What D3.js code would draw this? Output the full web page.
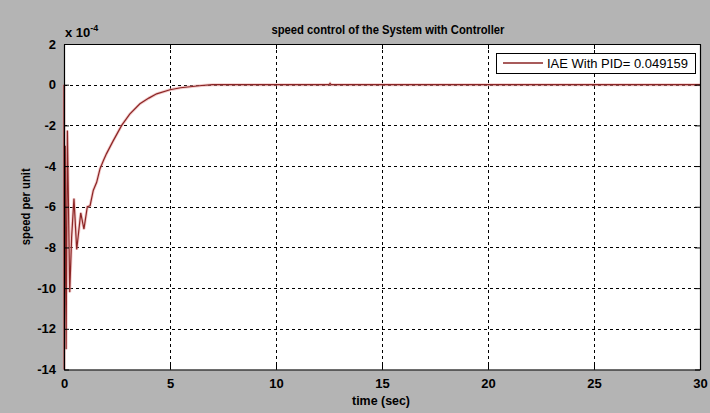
<!DOCTYPE html>
<html><head><meta charset="utf-8">
<script src="https://cdn.jsdelivr.net/npm/d3@7"></script>
<style>
html,body{margin:0;padding:0;background:#b4b4b4;}
svg{display:block;font-family:"Liberation Sans Narrow","Liberation Sans",Arial,sans-serif;}
</style></head>
<body>
<svg id="c" width="710" height="413"></svg>
<script>
const titleText = "speed control of the System with Controller";
const xLabel = "time (sec)";
const yLabel = "speed per unit";
const legendLabel = "IAE With PID= 0.049159";
const xTicks = [0,5,10,15,20,25,30];
const yTicks = [2,0,-2,-4,-6,-8,-10,-12,-14];
const yTickLabels = ["2","0","-2","-4","-6","-8","-10","-12","-14"];
// time (s) and speed (x 1e-4 per unit)
const timeVals  = [0, 0.01, 0.06, 0.10, 0.16, 0.27, 0.36, 0.47, 0.60, 0.79, 0.94, 1.10, 1.23, 1.38, 1.54, 1.70, 1.85, 2.00, 2.30, 2.72, 3.10, 3.58, 4.00, 4.37, 5.00, 5.50, 5.94, 6.50, 7.00, 12.50, 12.55, 12.60, 30];
const speedVals = [0, -14, -3.0, -13.0, -2.25, -10.2, -7.5, -5.6, -8.1, -6.3, -7.1, -6.0, -5.95, -5.2, -4.8, -4.13, -3.75, -3.4, -2.8, -2.0, -1.45, -0.94, -0.66, -0.45, -0.25, -0.15, -0.10, -0.04, 0, 0, 0.06, 0, 0];

const FONT = "Liberation Sans Narrow, Liberation Sans, Arial, sans-serif";
const svg = d3.select("#c");
const L = 64, R = 700, T = 44, B = 369.5;
const x = d3.scaleLinear().domain([0,30]).range([L,R]);
const y = d3.scaleLinear().domain([-14,2]).range([B,T]);

svg.append("rect").attr("x",L).attr("y",T).attr("width",R-L).attr("height",B-T).attr("fill","#fff");

// grid
const g = svg.append("g");
g.selectAll(".gx").data(xTicks.slice(1,-1)).enter().append("line")
  .attr("x1",d=>x(d)+0.5).attr("x2",d=>x(d)+0.5).attr("y1",T).attr("y2",B)
  .attr("stroke","#000").attr("stroke-width",1).attr("stroke-dasharray","3,3");
g.selectAll(".gy").data(yTicks.slice(1,-1)).enter().append("line")
  .attr("y1",d=>Math.round(y(d))+0.5).attr("y2",d=>Math.round(y(d))+0.5).attr("x1",L).attr("x2",R)
  .attr("stroke","#000").attr("stroke-width",1).attr("stroke-dasharray","3,3");

// line
const pts = timeVals.map((t,i)=>[t,speedVals[i]]);
svg.append("path").datum(pts)
  .attr("d", d3.line().x(d=>x(d[0])).y(d=>y(d[1])))
  .attr("fill","none").attr("stroke","#e8a0a0").attr("stroke-width",3).attr("opacity",0.55);
svg.append("path").datum(pts)
  .attr("d", d3.line().x(d=>x(d[0])).y(d=>y(d[1])))
  .attr("fill","none").attr("stroke","#8b2525").attr("stroke-width",1.2);

// axes with inward ticks
const axB = svg.append("g").attr("transform",`translate(0,${B})`)
  .call(d3.axisBottom(x).tickValues(xTicks).tickSizeInner(-5).tickSizeOuter(0).tickPadding(9));
const axT = svg.append("g").attr("transform",`translate(0,${T})`)
  .call(d3.axisTop(x).tickValues(xTicks).tickSizeInner(-5).tickSizeOuter(0).tickFormat(""));
const axLft = svg.append("g").attr("transform",`translate(${L},0)`)
  .call(d3.axisLeft(y).tickValues(yTicks).tickSizeInner(-5).tickSizeOuter(0).tickPadding(8)
  .tickFormat((d,i)=>yTickLabels[i]));
const axRt = svg.append("g").attr("transform",`translate(${R},0)`)
  .call(d3.axisRight(y).tickValues(yTicks).tickSizeInner(-5).tickSizeOuter(0).tickFormat(""));
[axB,axT,axLft,axRt].forEach(a=>{
  a.select(".domain").attr("stroke","#000").attr("stroke-width",1.2);
  a.selectAll(".tick line").attr("stroke","#000");
  a.selectAll("text").attr("font-family",FONT)
   .attr("font-size",13).attr("font-weight","bold").attr("fill","#000");
});

// exponent
const ex = svg.append("text").attr("x",65).attr("y",37).attr("font-size",13).attr("font-weight","bold");
ex.append("tspan").text("x 10");
ex.append("tspan").attr("dy",-6).attr("font-size",9).text("-4");

// title
svg.append("text").attr("x",388).attr("y",34).attr("text-anchor","middle")
  .attr("font-size",12.5).attr("font-weight","bold")
  .attr("textLength",233).attr("lengthAdjust","spacingAndGlyphs").text(titleText);
// x label
svg.append("text").attr("x",381).attr("y",405).attr("text-anchor","middle")
  .attr("font-size",12.5).attr("font-weight","bold")
  .attr("textLength",58).attr("lengthAdjust","spacingAndGlyphs").text(xLabel);
// y label
svg.append("text").attr("transform",`translate(30,${(T+B)/2}) rotate(-90)`).attr("text-anchor","middle")
  .attr("font-size",12.5).attr("font-weight","bold")
  .attr("textLength",77).attr("lengthAdjust","spacingAndGlyphs").text(yLabel);

// legend
svg.append("rect").attr("x",496.5).attr("y",53.5).attr("width",199).attr("height",20)
  .attr("fill","#fff").attr("stroke","#000").attr("stroke-width",1);
svg.append("line").attr("x1",503).attr("x2",543).attr("y1",63).attr("y2",63)
  .attr("stroke","#8b2525").attr("stroke-width",1.5);
svg.append("text").attr("x",547).attr("y",67.5).attr("font-size",12.5)
  .attr("font-family","Liberation Sans, Arial, sans-serif")
  .attr("textLength",141).attr("lengthAdjust","spacingAndGlyphs").text(legendLabel);
</script>
</body></html>
